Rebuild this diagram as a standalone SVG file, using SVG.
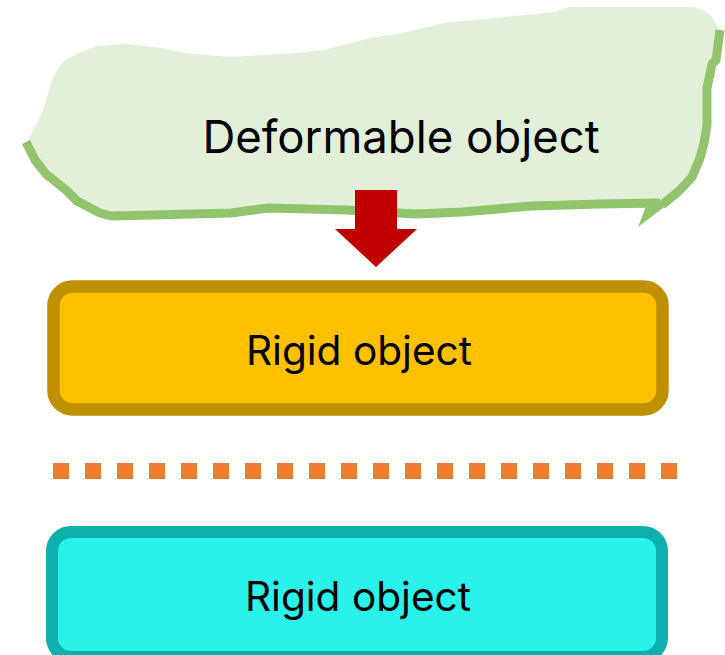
<svg xmlns="http://www.w3.org/2000/svg" width="725" height="655" viewBox="0 0 725 655">
  <style>
    .label { font-family: Inter, Roboto, "Liberation Sans", sans-serif; fill: #000; text-anchor: middle; }
    .edge-green { fill: none; stroke: #92c46e; stroke-width: 9; stroke-linejoin: round; stroke-linecap: butt; }
  </style>
  <rect width="725" height="655" fill="#ffffff"/>

  <!-- deformable blob -->
  <g id="deformable">
    <path fill="#e2efd9" d="M27,142 L35,127 L42,113 L46,100 L51,83 L56,72 L64,61 L75,55 L86,50 L97,46 L125,44 L162,48 L185,53 L231,57 L296,53 L324,50 L370,38 L407,32 L444,23 L555,12 L569,7 L693,7 L703,10 L712,16 L718,28 L719,32 L714,60 L710,62 L706,90 L706,143 L699,163 L689,185 L670,203 L656,205 L532,207 L462,213 L416,214 L347,210 L268,209 L231,213 L153,216 L109,214 L99,210 L79,198 L69,187 L46,172 L35,157 Z"/>
    <path class="edge-green" d="M26,142 L35,160 L46,174 L66,190 L77,201 L100,213 L111,216 L153,215 L231,213 L268,208 L347,210 L416,214 L462,212 L532,206 L600,204 L660,203"/>
    <polygon fill="#92c46e" points="648,201 672,201 638,227"/>
    <path class="edge-green" d="M662,205 L679,191 L692,177 L700,158 L704,143 L707,125 L707,88 L712,64 L716,60 L720,30"/>
    <text class="label" x="401" y="153" font-size="45.5">Deformable object</text>
  </g>

  <!-- connectors -->
  <g id="connectors">
    <polygon fill="#c00000" points="355,190 397,190 397,229 417,229 376,267 335,229 355,229"/>
    <line x1="53" y1="471" x2="677" y2="471" stroke="#ed7d31" stroke-width="16" stroke-dasharray="16 16"/>
  </g>

  <!-- upper rigid body -->
  <g id="rigid-top">
    <rect x="53.5" y="286.5" width="609" height="123" rx="19" fill="#ffc000" stroke="#bf9000" stroke-width="12.5"/>
    <text class="label" x="359" y="365" font-size="40.6">Rigid object</text>
  </g>

  <!-- lower rigid body -->
  <g id="rigid-bottom">
    <rect x="52" y="532" width="610" height="125" rx="19" fill="#2af2ea" stroke="#0eb0ad" stroke-width="12"/>
    <text class="label" x="358" y="611" font-size="40.6">Rigid object</text>
  </g>
</svg>
